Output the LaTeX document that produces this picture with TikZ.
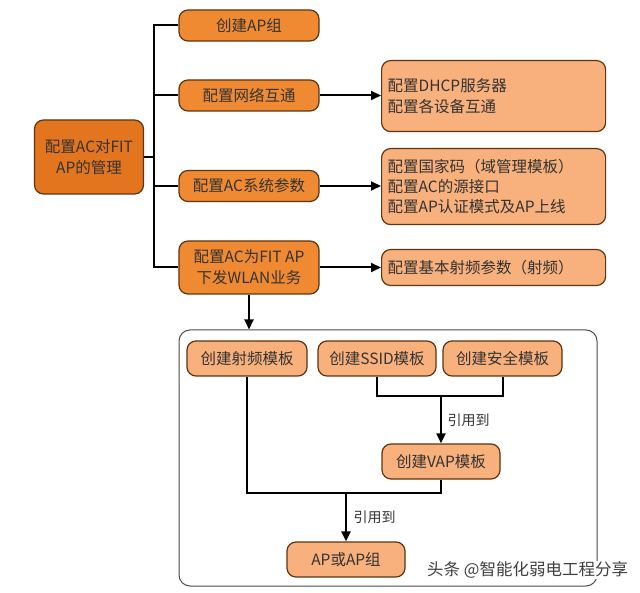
\documentclass[tikz,border=0pt]{standalone}
\usepackage{fontspec}
\setmainfont{Noto Sans CJK SC}
\usepackage{tikz}
\usetikzlibrary{arrows.meta,positioning,calc}
\definecolor{acdeep}{HTML}{E3751F}
\definecolor{acmid}{HTML}{EF8A32}
\definecolor{aclight}{HTML}{F8B07C}
\definecolor{acline}{HTML}{5E3510}
\definecolor{inktext}{HTML}{333333}
\newcommand{\txt}[1]{\fontsize{#1}{20}\selectfont}

\begin{document}
\begin{tikzpicture}[x=1pt,y=-1pt,font=\fontsize{15.5}{21}\selectfont,text=inktext,
  box/.style={draw=acline,line width=1.2pt,rounded corners=9pt,align=center,inner sep=2pt},
  deep/.style={box,fill=acdeep},
  mid/.style={box,fill=acmid,minimum width=140pt},
  soft/.style={box,fill=aclight,align=left,anchor=north west,text width=212pt,inner sep=6pt},
  tmpl/.style={box,fill=aclight,minimum width=119pt,minimum height=35pt},
  link/.style={draw=black,line width=2pt},
  arr/.style={link,-{Triangle[length=10pt,width=9pt]}}]
  \useasboundingbox (0,0) rectangle (640,593);
  \fill[white] (0,0) rectangle (640,593);
  % left
  \node[deep,minimum width=109pt,minimum height=74pt] (main) at (89,157) {配置AC对FIT\\AP的管理};
  \node[mid,minimum height=31pt] (l1a) at (249,25.5) {创建AP组};
  \node[mid,minimum height=31pt] (l1b) at (249,95.5) {配置网络互通};
  \node[mid,minimum height=31pt] (l1c) at (249,186) {配置AC系统参数};
  \node[mid,minimum height=53pt] (l1d) at (249,267.5) {配置AC为FIT AP\\下发WLAN业务};
  \coordinate (trunk) at (154,157);
  \draw[link] (main.east) -- (trunk);
  \draw[link] (l1a.west) -| (trunk) |- (l1d.west);
  \draw[link] (trunk |- l1b) -- (l1b.west);
  \draw[link] (trunk |- l1c) -- (l1c.west);
  % right
  \node[soft,minimum height=71pt] (r1) at (381,60) {配置DHCP服务器\\配置各设备互通};
  \node[soft,minimum height=76pt] (r2) at (381,148) {配置国家码（域管理模板）\\[-1pt]配置AC的源接口\\[-1pt]配置AP认证模式及AP上线};
  \node[soft,minimum height=36pt,anchor=west] (r3) at (381,267.5) {配置基本射频参数（射频）};
  \draw[arr] (l1b.east) -- (l1b -| r1.west);
  \draw[arr] (l1c.east) -- (l1c -| r2.west);
  \draw[arr] (l1d.east) -- (r3.west);
  % templates
  \node[draw=black!70,line width=1pt,rounded corners=11pt,minimum width=418pt,minimum height=256pt] (grp) at (388,458) {};
  \draw[arr] (l1d.south) -- (l1d.south |- grp.north);
  \node[tmpl,minimum width=120pt] (rf) at (247,358.5) {创建射频模板};
  \node[tmpl,minimum width=118pt] (ssid) at (377,358.5) {创建SSID模板};
  \node[tmpl] (sec) at (502.5,358.5) {创建安全模板};
  \node[tmpl,minimum width=118pt] (vap) at (441,461.5) {创建VAP模板};
  \node[tmpl,minimum width=118pt] (ap) at (346,559.5) {AP或AP组};
  \coordinate (j1) at (441,396);
  \coordinate (j2) at (346,493);
  \draw[link] (ssid.south) |- (j1) -| (sec.south);
  \draw[arr] (j1) -- (vap.north);
  \draw[link] (rf.south) |- (j2) -| (vap.south);
  \draw[arr] (j2) -- (ap.north);
  \node[anchor=west,font=\txt{14}] (ref1) at (444,420) {引用到};
  \node[anchor=west,font=\txt{14}] (ref2) at (350,517) {引用到};
  \node[anchor=west,font=\txt{16.5},text=black!75,fill=white,inner sep=1pt] (mark) at (426,570) {头条 @智能化弱电工程分享};
\end{tikzpicture}
\end{document}
